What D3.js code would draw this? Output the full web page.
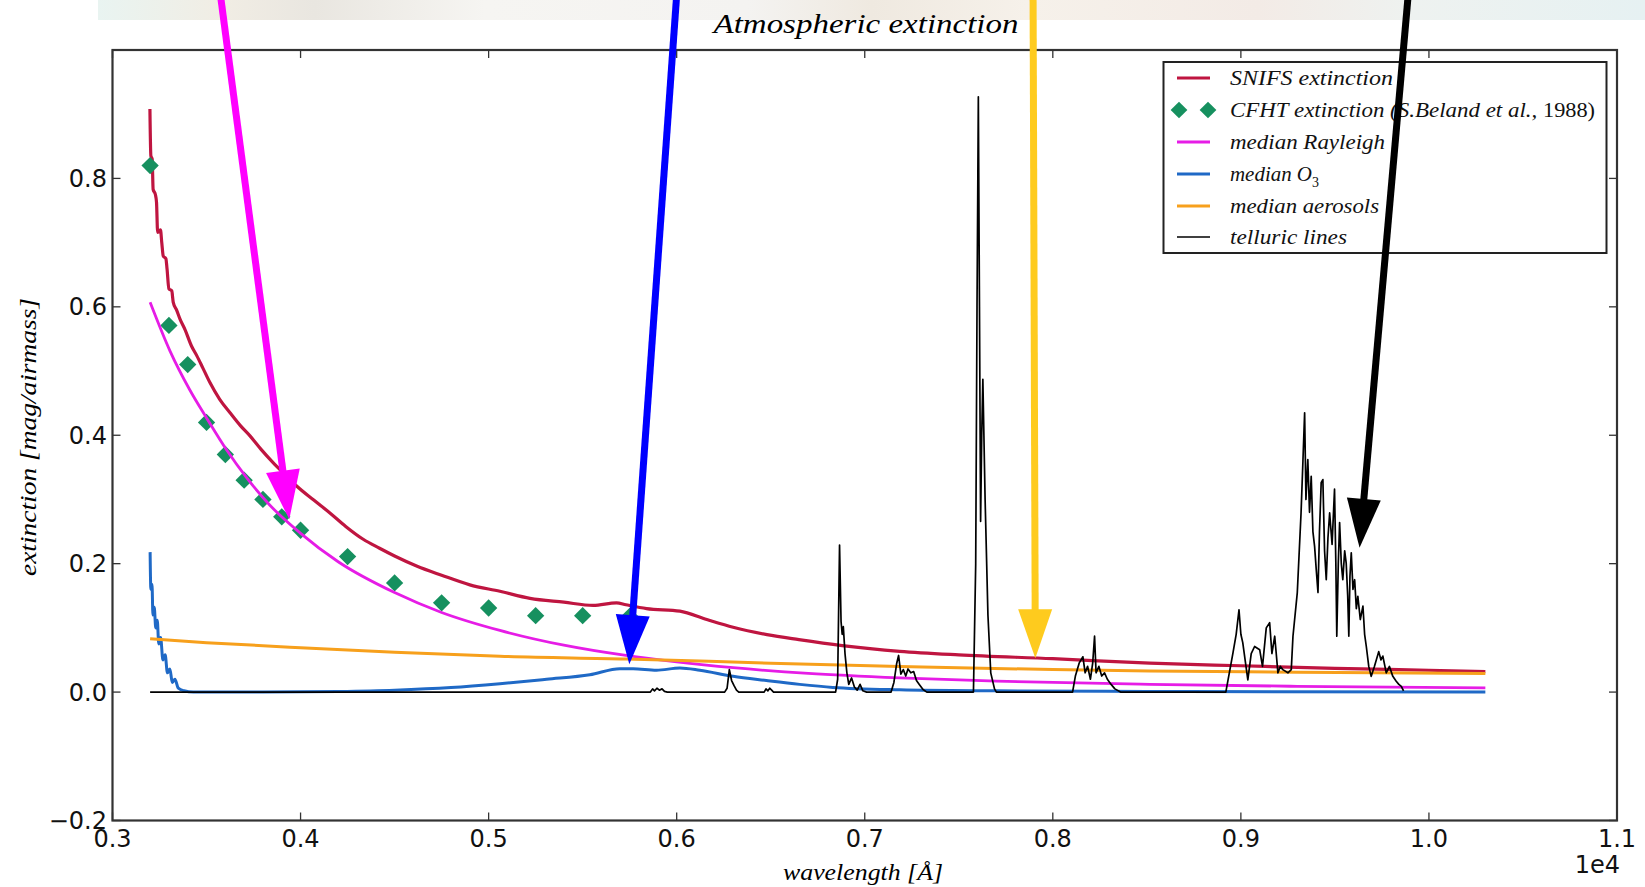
<!DOCTYPE html>
<html><head><meta charset="utf-8">
<script src="https://cdn.jsdelivr.net/npm/d3@7"></script>
<style>html,body{margin:0;padding:0;background:#fff;overflow:hidden}svg{display:block}</style>
</head><body><div id="chart"></div>
<script>
// ---------- data (wavelength in Angstrom, extinction in mag/airmass) ----------
const xTicks = [3000,4000,5000,6000,7000,8000,9000,10000,11000];
const xTickLabels = ["0.3","0.4","0.5","0.6","0.7","0.8","0.9","1.0","1.1"];
const yTicks = [-0.2,0.0,0.2,0.4,0.6,0.8,1.0];
const yTickLabels = ["\u22120.2","0.0","0.2","0.4","0.6","0.8",""];

const snifs = [[3199,0.908],[3204,0.835],[3211,0.83],[3216,0.783],[3228,0.775],[3234,0.763],[3240,0.716],[3255,0.72],[3262,0.70],[3270,0.679],[3284,0.675],[3290,0.659],[3300,0.628],[3315,0.625],[3323,0.607],[3341,0.595],[3359,0.581],[3385,0.565],[3420,0.539],[3448,0.524],[3480,0.505],[3518,0.482],[3570,0.456],[3625,0.435],[3680,0.415],[3731,0.399],[3790,0.378],[3855,0.357],[3920,0.338],[3979,0.321],[4070,0.299],[4156,0.279],[4240,0.258],[4333,0.238],[4420,0.224],[4500,0.212],[4620,0.196],[4750,0.182],[4900,0.167],[5060,0.157],[5220,0.146],[5400,0.140],[5556,0.135],[5680,0.139],[5730,0.136],[5840,0.130],[6017,0.126],[6160,0.113],[6300,0.101],[6480,0.0895],[6650,0.0817],[6880,0.0724],[7186,0.0635],[7500,0.058],[8000,0.052],[8515,0.045],[9000,0.041],[9500,0.037],[10000,0.034],[10300,0.032]];

const cfhtWave = [3200,3300,3400,3500,3600,3700,3800,3900,4000,4250,4500,4750,5000,5250,5500,5750];
const cfhtExt  = [0.82,0.571,0.51,0.42,0.37,0.33,0.30,0.273,0.252,0.211,0.17,0.139,0.131,0.119,0.119,0.118];

const rayleigh = [[3200,0.607],[3306,0.531],[3412,0.470],[3500,0.427],[3607,0.377],[3713,0.334],[3837,0.291],[3997,0.248],[4200,0.203],[4500,0.155],[4750,0.124],[5060,0.096],[5400,0.073],[5730,0.057],[6000,0.047],[6300,0.038],[6700,0.029],[7186,0.022],[7700,0.017],[8515,0.012],[9300,0.009],[10300,0.0064]];

const ozone = [[3200,0.218],[3204,0.16],[3210,0.168],[3215,0.12],[3222,0.132],[3230,0.10],[3238,0.112],[3246,0.075],[3256,0.085],[3268,0.05],[3280,0.058],[3292,0.03],[3305,0.036],[3318,0.015],[3332,0.02],[3350,0.006],[3380,0.002],[3430,0.0],[3800,0.0],[4200,0.001],[4500,0.003],[4800,0.007],[5060,0.013],[5308,0.020],[5538,0.027],[5698,0.0365],[5768,0.0365],[5893,0.034],[6017,0.0375],[6123,0.034],[6300,0.0245],[6477,0.018],[6654,0.012],[6830,0.0073],[7186,0.0037],[7700,0.002],[8500,0.001],[10300,0.0]];

const aerosols = [[3200,0.083],[3500,0.077],[4000,0.069],[4500,0.062],[5060,0.0557],[5730,0.0516],[6500,0.045],[7186,0.040],[8000,0.035],[8515,0.033],[9300,0.031],[10300,0.029]];

const telluric = [[3200,0],[5860,0],[5872,0.005],[5882,0.002],[5895,0.006],[5908,0.003],[5922,0.005],[5935,0.001],[5950,0],
[6255,0],[6268,0.006],[6280,0.035],[6292,0.018],[6305,0.01],[6318,0.003],[6330,0],
[6465,0],[6475,0.005],[6485,0.002],[6495,0.006],[6505,0.003],[6515,0],
[6845,0],[6856,0.02],[6866,0.229],[6874,0.11],[6880,0.09],[6886,0.102],[6895,0.06],[6905,0.03],[6915,0.012],[6930,0.022],[6945,0.008],[6960,0.003],[6975,0.012],[6990,0.002],[7010,0],
[7140,0],[7155,0.015],[7170,0.045],[7180,0.057],[7192,0.028],[7205,0.035],[7218,0.025],[7230,0.036],[7245,0.03],[7260,0.032],[7275,0.018],[7290,0.012],[7310,0.004],[7330,0],
[7578,0],[7590,0.2],[7597,0.6],[7604,0.927],[7610,0.6],[7616,0.266],[7622,0.4],[7628,0.487],[7640,0.3],[7655,0.12],[7670,0.03],[7690,0.005],[7700,0],
[8105,0],[8120,0.025],[8140,0.045],[8160,0.055],[8172,0.03],[8185,0.04],[8200,0.02],[8212,0.045],[8222,0.087],[8230,0.03],[8245,0.04],[8260,0.025],[8275,0.03],[8290,0.02],[8310,0.012],[8330,0.005],[8360,0],
[8920,0],[8958,0.061],[8975,0.09],[8990,0.128],[9000,0.09],[9010,0.077],[9037,0.019],[9055,0.06],[9073,0.071],[9100,0.066],[9115,0.04],[9135,0.10],[9153,0.108],[9165,0.06],[9180,0.087],[9197,0.03],[9210,0.04],[9223,0.035],[9250,0.03],[9268,0.035],[9277,0.087],[9300,0.155],[9320,0.279],[9330,0.36],[9339,0.435],[9346,0.30],[9356,0.362],[9365,0.28],[9374,0.336],[9383,0.25],[9392,0.227],[9401,0.19],[9410,0.155],[9418,0.25],[9427,0.326],[9436,0.331],[9445,0.22],[9454,0.175],[9463,0.24],[9472,0.279],[9485,0.23],[9498,0.316],[9505,0.2],[9510,0.087],[9518,0.2],[9525,0.264],[9534,0.2],[9542,0.175],[9552,0.22],[9560,0.201],[9568,0.15],[9574,0.087],[9580,0.18],[9587,0.217],[9596,0.16],[9605,0.175],[9614,0.13],[9622,0.149],[9635,0.113],[9649,0.134],[9658,0.09],[9667,0.071],[9680,0.04],[9693,0.0245],[9710,0.04],[9733,0.063],[9745,0.05],[9755,0.056],[9773,0.03],[9790,0.04],[9808,0.0245],[9826,0.017],[9840,0.012],[9853,0.009],[9865,0.002]];

const legendLabels = ["SNIFS extinction","CFHT extinction  (S.Beland et al., ","median Rayleigh","median O","median aerosols","telluric lines"];
const legendColors = ["#bf1540","#16905f","#e61ce6","#1f69c6","#f7a01c","#000000"];

// annotation arrows: start and tip in data coordinates
const arrowStart = [[3572,1.09],[6001,1.09],[7895,1.09],[9891,1.09]];
const arrowTip   = [[3940,0.269],[5748,0.0435],[7907,0.0527],[9631,0.2247]];
const arrowColors = ["#ff00ff","#0000ff","#fecb1e","#000000"];

// ---------- drawing ----------
const W = 1645, H = 887;
const svg = d3.select("#chart").append("svg").attr("width", W).attr("height", H)
  .style("font-family", "'DejaVu Sans', sans-serif");

const x = d3.scaleLinear().domain([3000, 11000]).range([112.5, 1617]);
const y = d3.scaleLinear().domain([-0.2, 1.0]).range([820.5, 50]);

// faded photo strip at top
const defs = svg.append("defs");
const grad = defs.append("linearGradient").attr("id","strip").attr("x1","0").attr("x2","1");
[["0","#e9f4f1"],["0.08","#f1ede4"],["0.14","#e9e6e0"],["0.25","#f6f5f2"],["0.42","#f4f3f1"],["0.5","#efe9e0"],["0.6","#f6f1ea"],["0.75","#f3ebe6"],["0.85","#eef2f0"],["1","#e6f1f2"]]
  .forEach(s => grad.append("stop").attr("offset", s[0]).attr("stop-color", s[1]));
svg.append("rect").attr("x", 98).attr("y", 0).attr("width", W - 98).attr("height", 20).attr("fill", "url(#strip)");

// title
svg.append("text").attr("x", 866).attr("y", 33).attr("text-anchor","middle")
  .attr("font-family","'Liberation Serif', serif").attr("font-style","italic").attr("font-size", 27)
  .attr("textLength", 305).attr("lengthAdjust","spacingAndGlyphs").text("Atmospheric extinction");

defs.append("clipPath").attr("id","clip").append("rect")
  .attr("x", x.range()[0]).attr("y", y.range()[1]).attr("width", x.range()[1]-x.range()[0]).attr("height", y.range()[0]-y.range()[1]);

const plot = svg.append("g").attr("clip-path","url(#clip)");
const lineSmooth = d3.line().x(d => x(d[0])).y(d => y(d[1])).curve(d3.curveMonotoneX);
const lineLin = d3.line().x(d => x(d[0])).y(d => y(d[1]));

plot.append("path").datum(snifs).attr("d", lineSmooth).attr("fill","none").attr("stroke", legendColors[0]).attr("stroke-width", 3.2).attr("stroke-linejoin","round");
plot.selectAll(".cfht").data(cfhtWave.map((w,i) => [w, cfhtExt[i]])).enter().append("path")
  .attr("d", d3.symbol(d3.symbolSquare, 150)).attr("fill", legendColors[1])
  .attr("transform", d => `translate(${x(d[0])},${y(d[1])}) rotate(45)`);
plot.append("path").datum(rayleigh).attr("d", lineSmooth).attr("fill","none").attr("stroke", legendColors[2]).attr("stroke-width", 2.8);
plot.append("path").datum(ozone).attr("d", lineSmooth).attr("fill","none").attr("stroke", legendColors[3]).attr("stroke-width", 3);
plot.append("path").datum(aerosols).attr("d", lineSmooth).attr("fill","none").attr("stroke", legendColors[4]).attr("stroke-width", 3);
plot.append("path").datum(telluric).attr("d", lineLin).attr("fill","none").attr("stroke", legendColors[5]).attr("stroke-width", 1.7).attr("stroke-linejoin","round");

// frame
svg.append("rect").attr("x", x.range()[0]).attr("y", y.range()[1]).attr("width", x.range()[1]-x.range()[0]).attr("height", y.range()[0]-y.range()[1])
  .attr("fill","none").attr("stroke","#333").attr("stroke-width", 2.2);

// ticks (inward, all sides)
const tk = 8;
const tg = svg.append("g").attr("stroke","#333").attr("stroke-width",1.3);
xTicks.forEach(t => {
  tg.append("line").attr("x1", x(t)).attr("x2", x(t)).attr("y1", y.range()[0]).attr("y2", y.range()[0]-tk);
  tg.append("line").attr("x1", x(t)).attr("x2", x(t)).attr("y1", y.range()[1]).attr("y2", y.range()[1]+tk);
});
yTicks.forEach(t => {
  tg.append("line").attr("x1", x.range()[0]).attr("x2", x.range()[0]+tk).attr("y1", y(t)).attr("y2", y(t));
  tg.append("line").attr("x1", x.range()[1]).attr("x2", x.range()[1]-tk).attr("y1", y(t)).attr("y2", y(t));
});
xTicks.forEach((t,i) => svg.append("text").attr("x", x(t)).attr("y", 847).attr("text-anchor","middle").attr("font-size", 24).attr("fill","#111").text(xTickLabels[i]));
yTicks.forEach((t,i) => svg.append("text").attr("x", 107).attr("y", y(t)).attr("dy","0.36em").attr("text-anchor","end").attr("font-size", 24).attr("fill","#111").text(yTickLabels[i]));
svg.append("text").attr("x", 1620).attr("y", 873).attr("text-anchor","end").attr("font-size", 24).attr("fill","#111").text("1e4");

// axis labels
svg.append("text").attr("x", 863).attr("y", 880).attr("text-anchor","middle")
  .attr("font-family","'Liberation Serif', serif").attr("font-style","italic").attr("font-size", 23)
  .attr("textLength", 160).attr("lengthAdjust","spacingAndGlyphs").text("wavelength [\u00C5]");
svg.append("text").attr("transform","translate(36,437) rotate(-90)").attr("text-anchor","middle")
  .attr("font-family","'Liberation Serif', serif").attr("font-style","italic").attr("font-size", 23)
  .attr("textLength", 278).attr("lengthAdjust","spacingAndGlyphs").text("extinction [mag/airmass]");

// legend
const lg = svg.append("g");
lg.append("rect").attr("x", 1163.5).attr("y", 62).attr("width", 443).attr("height", 191).attr("fill","#fff").attr("stroke","#222").attr("stroke-width", 2);
const rowY = [78, 110, 142, 174, 206, 237];
const textLen = [163, 313, 155, 0, 149, 117];
const lw = [3.2, 0, 2.8, 3, 3, 1.7];
legendLabels.forEach((lab, i) => {
  if (i === 1) {
    [1179, 1208].forEach(cx => lg.append("path").attr("d", d3.symbol(d3.symbolSquare, 140)).attr("fill", legendColors[1])
      .attr("transform", `translate(${cx},${rowY[i]}) rotate(45)`));
  } else {
    lg.append("line").attr("x1", 1177).attr("x2", 1210).attr("y1", rowY[i]).attr("y2", rowY[i]).attr("stroke", legendColors[i]).attr("stroke-width", lw[i]);
  }
  const t = lg.append("text").attr("x", 1230).attr("y", rowY[i] + 7)
    .attr("font-family","'Liberation Serif', serif").attr("font-style","italic").attr("font-size", 21).attr("fill","#111");
  if (i === 1) {
    t.append("tspan").attr("textLength", 313).attr("lengthAdjust","spacingAndGlyphs").text(lab);
    t.append("tspan").attr("font-style","normal").attr("textLength", 52).attr("lengthAdjust","spacingAndGlyphs").text("1988)");
  } else if (i === 3) {
    t.append("tspan").attr("textLength", 82).attr("lengthAdjust","spacingAndGlyphs").text(lab);
    t.append("tspan").attr("font-style","normal").attr("font-size", 14).attr("dy", 6).text("3");
  } else {
    t.attr("textLength", textLen[i]).attr("lengthAdjust","spacingAndGlyphs").text(lab);
  }
});

// annotation arrows
const headLen = 49, headHalf = 17;
arrowStart.forEach((s, i) => {
  const x0 = x(s[0]), y0 = y(s[1]), x1 = x(arrowTip[i][0]), y1 = y(arrowTip[i][1]);
  const dx = x1 - x0, dy = y1 - y0, L = Math.hypot(dx, dy), ux = dx / L, uy = dy / L;
  const bx = x1 - ux * headLen, by = y1 - uy * headLen;
  svg.append("line").attr("x1", x0).attr("y1", y0).attr("x2", bx + ux * 2).attr("y2", by + uy * 2)
    .attr("stroke", arrowColors[i]).attr("stroke-width", 7);
  svg.append("path").attr("fill", arrowColors[i])
    .attr("d", `M${x1},${y1}L${bx - uy * headHalf},${by + ux * headHalf}L${bx + uy * headHalf},${by - ux * headHalf}Z`);
});
</script></body></html>
